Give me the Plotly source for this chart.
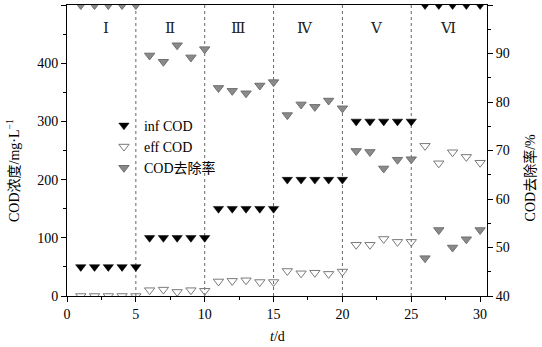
import plotly.graph_objects as go

days = list(range(1, 31))
inf_cod = [50]*5 + [100]*5 + [150]*5 + [200]*5 + [300]*5 + [500]*5
eff_cod = [0, 0, 0, 0, 0,
           10, 11, 7, 10, 9,
           25, 26, 27, 24, 24,
           43, 39, 40, 38, 42,
           88, 88, 98, 93, 93,
           258, 228, 247, 239, 229]
removal = [100, 100, 100, 100, 100,
           89.6, 88.3, 91.7, 89.2, 90.9,
           82.9, 82.3, 81.8, 83.4, 84.1,
           77.3, 79.5, 79.0, 80.3, 78.7,
           69.9, 69.7, 66.3, 68.1, 68.2,
           47.8, 53.6, 50.0, 51.7, 53.6]
phase_bounds = [5, 10, 15, 20, 25]
phase_labels = ["Ⅰ", "Ⅱ", "Ⅲ", "Ⅳ", "Ⅴ", "Ⅵ"]
phase_label_x = [2.8, 7.5, 12.4, 17.3, 22.5, 27.7]
phase_label_y = 460

serif = "Liberation Serif, Noto Sans CJK SC, serif"
roman_font = "DejaVu Serif, Liberation Serif, serif"

fig = go.Figure()
fig.add_trace(go.Scatter(x=days, y=inf_cod, mode="markers", name="inf COD",
                         marker=dict(symbol="triangle-down", size=9, color="black",
                                     line=dict(width=0.5, color="black"))))
fig.add_trace(go.Scatter(x=days, y=eff_cod, mode="markers", name="eff COD",
                         marker=dict(symbol="triangle-down-open", size=9, color="#7a7a7a",
                                     line=dict(width=1, color="#7a7a7a"))))
fig.add_trace(go.Scatter(x=days, y=removal, mode="markers", name="COD去除率", yaxis="y2",
                         marker=dict(symbol="triangle-down", size=9, color="#8a8a8a",
                                     line=dict(width=1, color="#6f6f6f"))))

shapes = []
for b in phase_bounds:
    shapes.append(dict(type="line", xref="x", yref="paper", x0=b, x1=b, y0=0, y1=1,
                       line=dict(color="#666666", width=1, dash="dot"), layer="below"))

annotations = []
for lab, lx in zip(phase_labels, phase_label_x):
    annotations.append(dict(x=lx, y=phase_label_y, xref="x", yref="y", text=lab,
                            showarrow=False, font=dict(family=roman_font, size=15, color="#222")))
annotations.append(dict(x=0.5, y=-0.14, xref="paper", yref="paper", text="<i>t</i>/d",
                        showarrow=False, yanchor="middle",
                        font=dict(family=serif, size=14, color="black")))
annotations.append(dict(x=-0.1286, y=0.433, xref="paper", yref="paper",
                        text="COD浓度/mg·L<sup>−1</sup>", textangle=-90,
                        showarrow=False, xanchor="center", yanchor="middle",
                        font=dict(family=serif, size=14, color="black")))
annotations.append(dict(x=1.103, y=0.405, xref="paper", yref="paper",
                        text="COD去除率/%", textangle=-90,
                        showarrow=False, xanchor="center", yanchor="middle",
                        font=dict(family=serif, size=14, color="black")))

axis_common = dict(showgrid=False, zeroline=False, showline=True, linecolor="black",
                   linewidth=1, ticks="outside", ticklen=5, tickwidth=1, tickcolor="black",
                   tickfont=dict(family=serif, size=14, color="black"))

fig.update_layout(
    width=542, height=347,
    margin=dict(l=67, r=55, t=5, b=51),
    paper_bgcolor="white", plot_bgcolor="white",
    xaxis=dict(range=[0, 30.5], dtick=5, mirror=True,
               minor=dict(ticks="outside", dtick=2.5, ticklen=3, tickcolor="black"),
               **axis_common),
    yaxis=dict(range=[0, 500], dtick=100,
               minor=dict(ticks="outside", dtick=50, ticklen=3, tickcolor="black"),
               **axis_common),
    yaxis2=dict(range=[40, 100], dtick=10, overlaying="y", side="right",
                minor=dict(ticks="outside", dtick=5, ticklen=3, tickcolor="black"),
                **axis_common),
    legend=dict(x=0.088, y=0.64, xanchor="left", yanchor="top",
                bgcolor="rgba(0,0,0,0)", borderwidth=0, tracegroupgap=0,
                font=dict(family=serif, size=14, color="black")),
    shapes=shapes, annotations=annotations,
)

fig.write_html("out.html")
